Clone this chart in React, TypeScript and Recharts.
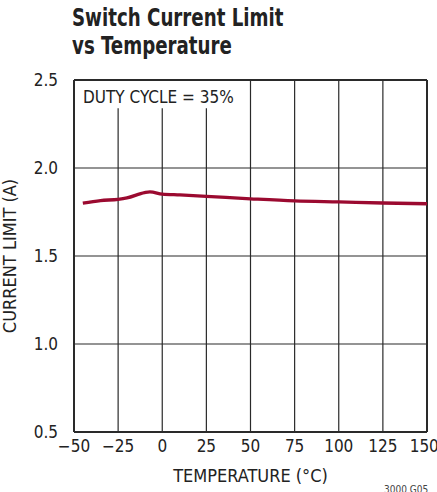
import { LineChart, Line, XAxis, YAxis, CartesianGrid, ReferenceArea, ReferenceLine } from 'recharts';

const temps = [-45, -35, -25, -20, -10, -7, 0, 10, 25, 50, 75, 100, 125, 150];
const currentLimit = [1.8, 1.815, 1.822, 1.83, 1.86, 1.864, 1.852, 1.847, 1.839, 1.825, 1.813, 1.807, 1.801, 1.797];
const xTicks = [-50, -25, 0, 25, 50, 75, 100, 125, 150];
const yTicks = [0.5, 1.0, 1.5, 2.0, 2.5];

const data = temps.map((t, i) => ({ temp: t, limit: currentLimit[i] }));

const font = '"Liberation Sans Narrow", "DejaVu Sans Condensed", Arial, sans-serif';
const grid = '#2a2a2a';
const tickStyle = { fontSize: 17, fill: '#222', fontFamily: font };

const fmtX = (v: number) => (v < 0 ? '\u2212' + Math.abs(v) : String(v));

export default function App() {
  return (
    <div style={{ position: 'absolute', left: 0, top: 0, width: 437, height: 492, background: '#fff', overflow: 'hidden' }}>
      <div
        style={{
          position: 'absolute', left: 72, top: 4, fontFamily: font, fontWeight: 700, fontSize: 25,
          lineHeight: '28px', color: '#222', transform: 'scaleX(0.81)', transformOrigin: 'left top', whiteSpace: 'nowrap',
        }}
      >
        Switch Current Limit
        <br />
        vs Temperature
      </div>
      <LineChart width={437} height={492} data={data} margin={{ top: 80, right: 10, bottom: 0, left: 0 }}>
        <CartesianGrid stroke={grid} strokeWidth={1.2} horizontalValues={yTicks} verticalValues={xTicks} />
        <ReferenceArea x1={-50} x2={40} y1={2.34} y2={2.5} fill="#fff" fillOpacity={1} stroke="none"
          label={(props: any) => (
            <text x={props.viewBox.x + 9} y={props.viewBox.y + 23} fontSize={17} fontFamily={font} fill="#222">
              DUTY CYCLE = 35%
            </text>
          )}
        />
        <ReferenceLine y={2.5} stroke={grid} strokeWidth={2} />
        <ReferenceLine x={150} stroke={grid} strokeWidth={2} />
        <XAxis
          dataKey="temp"
          type="number"
          domain={[-50, 150]}
          ticks={xTicks}
          tickFormatter={fmtX}
          tick={tickStyle}
          tickLine={false}
          axisLine={{ stroke: grid, strokeWidth: 2 }}
          height={60}
          tickMargin={2}
          label={{ value: 'TEMPERATURE (°C)', position: 'insideBottom', offset: 10, style: { fontSize: 18, fill: '#222', fontFamily: font } }}
        />
        <YAxis
          type="number"
          domain={[0.5, 2.5]}
          ticks={yTicks}
          tickFormatter={(v: number) => v.toFixed(1)}
          tick={tickStyle}
          tickLine={false}
          axisLine={{ stroke: grid, strokeWidth: 2 }}
          width={74}
          tickMargin={10}
          label={{ value: 'CURRENT LIMIT (A)', angle: -90, position: 'insideLeft', offset: 10, style: { fontSize: 18, fill: '#222', fontFamily: font, textAnchor: 'middle' } }}
        />
        <Line type="monotone" dataKey="limit" stroke="#9b0a30" strokeWidth={3.3} dot={false} isAnimationActive={false} />
      </LineChart>
      <div style={{ position: 'absolute', left: 384, top: 484, fontFamily: font, fontSize: 10, color: '#444' }}>3000 G05</div>
    </div>
  );
}
